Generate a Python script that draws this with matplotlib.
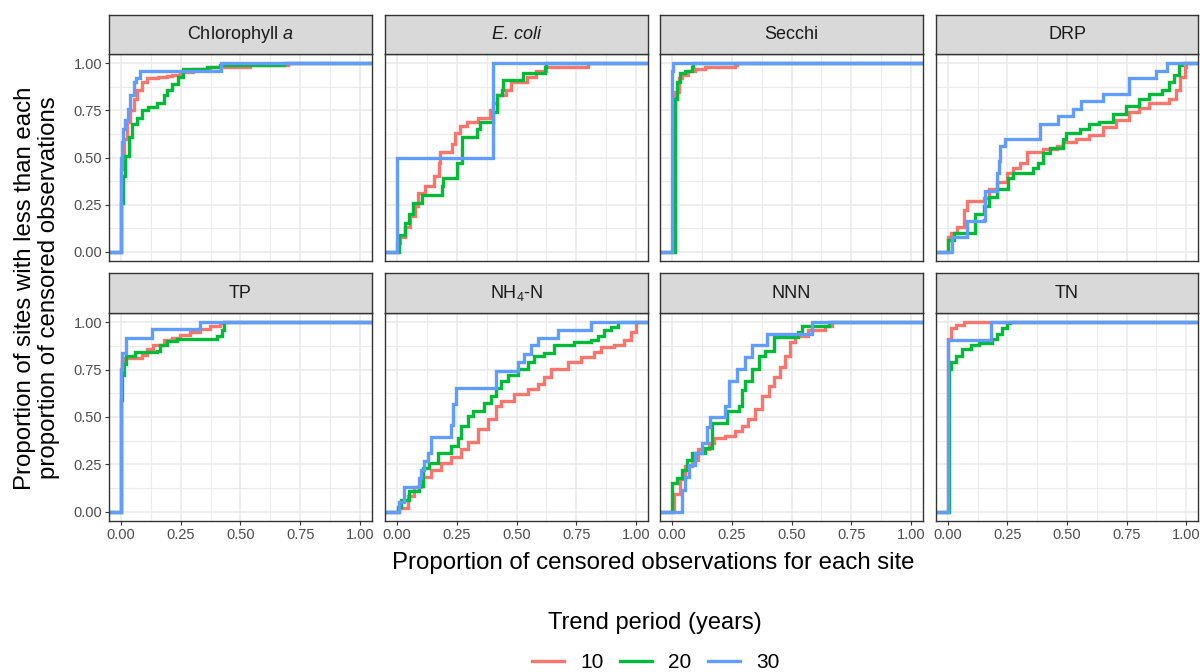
import numpy as np
import matplotlib
matplotlib.use("Agg")
import matplotlib.pyplot as plt
from matplotlib.lines import Line2D

plt.rcParams["font.family"] = ["Liberation Sans", "DejaVu Sans"]
plt.rcParams["mathtext.fontset"] = "custom"
plt.rcParams["mathtext.rm"] = "Liberation Sans"
plt.rcParams["mathtext.it"] = "Liberation Sans:italic"

# ECDF steps per variable and trend period: (proportion censored, cumulative proportion of sites)
chla_10 = [(0.0, 0.44), (0.011, 0.60), (0.025, 0.69), (0.039, 0.75), (0.053, 0.81), (0.067, 0.86),
           (0.088, 0.90), (0.108, 0.92), (0.157, 0.93), (0.192, 0.935), (0.213, 0.94), (0.247, 0.955),
           (0.303, 0.97), (0.372, 0.98), (0.539, 0.99), (0.70, 1.0)]
chla_20 = [(0.0, 0.26), (0.008, 0.40), (0.018, 0.51), (0.032, 0.61), (0.046, 0.68), (0.067, 0.71),
           (0.088, 0.75), (0.115, 0.77), (0.15, 0.79), (0.178, 0.83), (0.192, 0.86), (0.213, 0.89),
           (0.24, 0.93), (0.261, 0.97), (0.358, 0.98), (0.414, 0.99), (0.68, 1.0)]
chla_30 = [(0.0, 0.50), (0.004, 0.58), (0.008, 0.65), (0.018, 0.70), (0.028, 0.76), (0.036, 0.83),
           (0.053, 0.90), (0.064, 0.92), (0.078, 0.96), (0.417, 1.0)]

ecoli_10 = [(0.0, 0.045), (0.014, 0.08), (0.035, 0.13), (0.056, 0.19), (0.076, 0.24), (0.09, 0.31),
            (0.118, 0.35), (0.153, 0.40), (0.174, 0.47), (0.181, 0.53), (0.229, 0.57), (0.243, 0.63),
            (0.264, 0.67), (0.292, 0.69), (0.34, 0.71), (0.389, 0.75), (0.403, 0.79), (0.417, 0.83),
            (0.458, 0.86), (0.479, 0.90), (0.542, 0.93), (0.583, 0.96), (0.625, 0.98), (0.80, 1.0)]
ecoli_20 = [(0.007, 0.09), (0.035, 0.15), (0.049, 0.20), (0.069, 0.26), (0.104, 0.30), (0.188, 0.35),
            (0.194, 0.39), (0.25, 0.47), (0.271, 0.61), (0.333, 0.65), (0.347, 0.69), (0.403, 0.74),
            (0.417, 0.83), (0.438, 0.86), (0.444, 0.91), (0.528, 0.95), (0.618, 0.98), (0.625, 1.0)]
ecoli_30 = [(0.0, 0.5), (0.403, 1.0)]

secchi_10 = [(0.014, 0.85), (0.028, 0.92), (0.042, 0.94), (0.069, 0.96), (0.097, 0.97), (0.139, 0.98),
             (0.264, 0.99), (0.27, 1.0)]
secchi_20 = [(0.014, 0.81), (0.021, 0.90), (0.035, 0.95), (0.056, 0.96), (0.083, 0.98), (0.09, 1.0)]
secchi_30 = [(0.0, 0.96), (0.006, 1.0)]

drp_10 = [(0.0, 0.08), (0.011, 0.10), (0.039, 0.13), (0.067, 0.22), (0.081, 0.27), (0.15, 0.285),
          (0.171, 0.33), (0.206, 0.37), (0.247, 0.42), (0.275, 0.445), (0.303, 0.47), (0.331, 0.53),
          (0.40, 0.545), (0.456, 0.56), (0.483, 0.58), (0.539, 0.60), (0.594, 0.62), (0.65, 0.66),
          (0.706, 0.70), (0.761, 0.74), (0.803, 0.765), (0.844, 0.79), (0.928, 0.81), (0.956, 0.86),
          (0.976, 0.93), (0.997, 0.98), (1.0, 1.0)]
drp_20 = [(0.0, 0.06), (0.025, 0.10), (0.115, 0.20), (0.15, 0.24), (0.171, 0.29), (0.206, 0.33),
          (0.254, 0.39), (0.275, 0.42), (0.358, 0.445), (0.379, 0.47), (0.40, 0.525), (0.428, 0.55),
          (0.483, 0.60), (0.497, 0.63), (0.553, 0.65), (0.594, 0.68), (0.636, 0.69), (0.692, 0.73),
          (0.747, 0.775), (0.803, 0.81), (0.844, 0.84), (0.90, 0.86), (0.928, 0.90), (0.949, 0.94),
          (0.969, 0.99), (0.983, 1.0)]
drp_30 = [(0.018, 0.08), (0.081, 0.16), (0.15, 0.17), (0.154, 0.205), (0.157, 0.32), (0.206, 0.42),
          (0.213, 0.48), (0.219, 0.56), (0.24, 0.60), (0.386, 0.68), (0.4625, 0.72), (0.525, 0.76),
          (0.56, 0.80), (0.65, 0.84), (0.761, 0.92), (0.872, 0.96), (0.921, 1.0)]

tp_10 = [(0.0, 0.755), (0.004, 0.79), (0.018, 0.81), (0.088, 0.83), (0.109, 0.86), (0.136, 0.88),
         (0.178, 0.905), (0.213, 0.92), (0.248, 0.935), (0.29, 0.95), (0.331, 0.965), (0.373, 0.98),
         (0.415, 0.995), (0.429, 1.0)]
tp_20 = [(0.0, 0.59), (0.003, 0.72), (0.011, 0.78), (0.022, 0.825), (0.06, 0.845), (0.15, 0.85),
         (0.164, 0.88), (0.192, 0.90), (0.234, 0.915), (0.401, 0.93), (0.422, 0.96), (0.432, 1.0)]
tp_30 = [(0.0, 0.75), (0.006, 0.84), (0.022, 0.92), (0.13, 0.965), (0.33, 1.0)]

nh4_10 = [(0.01, 0.02), (0.045, 0.08), (0.073, 0.13), (0.10, 0.185), (0.142, 0.22), (0.184, 0.255),
          (0.226, 0.29), (0.268, 0.33), (0.296, 0.37), (0.338, 0.435), (0.379, 0.49), (0.414, 0.56),
          (0.435, 0.585), (0.491, 0.62), (0.547, 0.65), (0.589, 0.675), (0.616, 0.71), (0.644, 0.755),
          (0.714, 0.79), (0.77, 0.815), (0.826, 0.845), (0.854, 0.87), (0.909, 0.88), (0.951, 0.905),
          (0.979, 0.95), (1.0, 1.0)]
nh4_20 = [(0.003, 0.025), (0.017, 0.06), (0.052, 0.11), (0.093, 0.135), (0.107, 0.23), (0.135, 0.255),
          (0.17, 0.31), (0.226, 0.345), (0.254, 0.39), (0.268, 0.45), (0.296, 0.505), (0.317, 0.53),
          (0.365, 0.575), (0.393, 0.61), (0.414, 0.655), (0.435, 0.69), (0.463, 0.72), (0.505, 0.755),
          (0.547, 0.79), (0.575, 0.825), (0.616, 0.84), (0.658, 0.88), (0.742, 0.895), (0.812, 0.905),
          (0.84, 0.93), (0.868, 0.96), (0.895, 0.975), (0.923, 1.0)]
nh4_30 = [(0.01, 0.05), (0.031, 0.13), (0.093, 0.18), (0.10, 0.22), (0.114, 0.265), (0.128, 0.31),
          (0.142, 0.395), (0.226, 0.46), (0.233, 0.57), (0.247, 0.656), (0.414, 0.745), (0.505, 0.79),
          (0.533, 0.835), (0.561, 0.88), (0.589, 0.92), (0.672, 0.96), (0.812, 1.0)]

nnn_10 = [(0.007, 0.095), (0.035, 0.17), (0.056, 0.24), (0.084, 0.275), (0.111, 0.33), (0.153, 0.36),
          (0.174, 0.39), (0.223, 0.40), (0.265, 0.425), (0.292, 0.45), (0.32, 0.49), (0.348, 0.54),
          (0.376, 0.61), (0.404, 0.665), (0.425, 0.71), (0.453, 0.765), (0.474, 0.825), (0.494, 0.895),
          (0.515, 0.93), (0.571, 0.96), (0.641, 0.98), (0.669, 1.0)]
nnn_20 = [(0.0, 0.15), (0.021, 0.175), (0.042, 0.22), (0.063, 0.275), (0.084, 0.31), (0.139, 0.335),
          (0.167, 0.47), (0.23, 0.53), (0.279, 0.56), (0.292, 0.645), (0.306, 0.69), (0.334, 0.755),
          (0.362, 0.825), (0.39, 0.85), (0.425, 0.925), (0.529, 0.95), (0.543, 0.98), (0.655, 1.0)]
nnn_30 = [(0.042, 0.115), (0.056, 0.185), (0.07, 0.245), (0.097, 0.31), (0.125, 0.365), (0.146, 0.445),
          (0.16, 0.50), (0.223, 0.56), (0.237, 0.69), (0.272, 0.755), (0.306, 0.815), (0.334, 0.88),
          (0.397, 0.94), (0.585, 1.0)]

tn_10 = [(0.0, 0.81), (0.001, 0.915), (0.011, 0.97), (0.032, 0.985), (0.067, 1.0)]
tn_20 = [(0.004, 0.755), (0.011, 0.79), (0.032, 0.825), (0.06, 0.86), (0.095, 0.88), (0.13, 0.89),
         (0.185, 0.915), (0.206, 0.94), (0.227, 0.97), (0.248, 0.995), (0.262, 1.0)]
tn_30 = [(0.0, 0.905), (0.18, 1.0)]

panel_titles = ["Chlorophyll $\\it{a}$", "E. coli", "Secchi", "DRP",
                "TP", "NH$_4$-N", "NNN", "TN"]
panel_series = [(chla_10, chla_20, chla_30), (ecoli_10, ecoli_20, ecoli_30),
                (secchi_10, secchi_20, secchi_30), (drp_10, drp_20, drp_30),
                (tp_10, tp_20, tp_30), (nh4_10, nh4_20, nh4_30),
                (nnn_10, nnn_20, nnn_30), (tn_10, tn_20, tn_30)]
periods = ["10", "20", "30"]
colors = ["#F8766D", "#00BA38", "#619CFF"]
breaks = [0, 0.25, 0.5, 0.75, 1.0]
labels = ["0.00", "0.25", "0.50", "0.75", "1.00"]

W, H = 1204, 672
fig = plt.figure(figsize=(W / 100, H / 100), dpi=100)

col_x = [(109, 372), (385, 648), (660, 923), (936, 1198)]
row_y = [(54, 261), (313, 521)]
strip_y = [(15, 54), (273, 313)]
lo, hi = -0.05, 1.05
line_w = 2.4

for i, (title, series) in enumerate(zip(panel_titles, panel_series)):
    r, c = divmod(i, 4)
    x0, x1 = col_x[c]
    y0, y1 = row_y[r]
    ax = fig.add_axes([x0 / W, 1 - y1 / H, (x1 - x0) / W, (y1 - y0) / H])
    ax.set_xlim(lo, hi)
    ax.set_ylim(lo, hi)
    ax.set_xticks(breaks)
    ax.set_yticks(breaks)
    ax.set_xticks([0.125, 0.375, 0.625, 0.875], minor=True)
    ax.set_yticks([0.125, 0.375, 0.625, 0.875], minor=True)
    ax.grid(True, which="major", color="#EBEBEB", lw=1.2)
    ax.grid(True, which="minor", color="#EBEBEB", lw=0.8)
    ax.set_axisbelow(True)
    for s in ax.spines.values():
        s.set_color("#333333")
        s.set_linewidth(1.0)
    ax.tick_params(which="minor", length=0)
    ax.tick_params(which="major", length=3, width=0.8, color="#333333",
                   labelcolor="#4D4D4D", labelsize=10.5, pad=2)
    if c == 0:
        ax.set_yticklabels(labels)
    else:
        ax.tick_params(axis="y", which="major", length=0, labelleft=False)
    if r == 1:
        ax.set_xticklabels(labels)
    else:
        ax.tick_params(axis="x", which="major", length=0, labelbottom=False)

    # ECDF steps padded to the panel edges
    for steps, col in zip(series, colors):
        xs = [lo] + [p[0] for p in steps] + [hi]
        ys = [0.0] + [p[1] for p in steps] + [steps[-1][1]]
        ax.step(xs, ys, where="post", color=col, lw=line_w, solid_joinstyle="miter")

    sy0, sy1 = strip_y[r]
    sax = fig.add_axes([x0 / W, 1 - sy1 / H, (x1 - x0) / W, (sy1 - sy0) / H])
    sax.set_facecolor("#D9D9D9")
    sax.set_xticks([])
    sax.set_yticks([])
    for s in sax.spines.values():
        s.set_color("#333333")
        s.set_linewidth(1.0)
    style = "italic" if title == "E. coli" else "normal"
    sax.text(0.5, 0.5, title, ha="center", va="center", fontsize=13,
             color="#1A1A1A", fontstyle=style, transform=sax.transAxes)

fig.text(653.5 / W, 1 - 563 / H, "Proportion of censored observations for each site",
         ha="center", va="center", fontsize=17.3)
fig.text(37 / W, 1 - 288 / H,
         "Proportion of sites with less than each\nproportion of censored observations",
         ha="center", va="center", rotation=90, fontsize=17.3, linespacing=1.1)

# legend: title and keys placed separately to get the ggplot spacing
fig.text(655 / W, 1 - 623 / H, "Trend period (years)", ha="center", va="center", fontsize=17)
handles = [Line2D([], [], color=col, lw=line_w) for col in colors]
fig.legend(handles, periods, loc="center", bbox_to_anchor=(656 / W, 1 - 663 / H),
           ncol=3, frameon=False, fontsize=15, handlelength=1.5, handletextpad=0.8,
           columnspacing=0.8, borderpad=0, borderaxespad=0)

fig.savefig("out.png", dpi=100)
